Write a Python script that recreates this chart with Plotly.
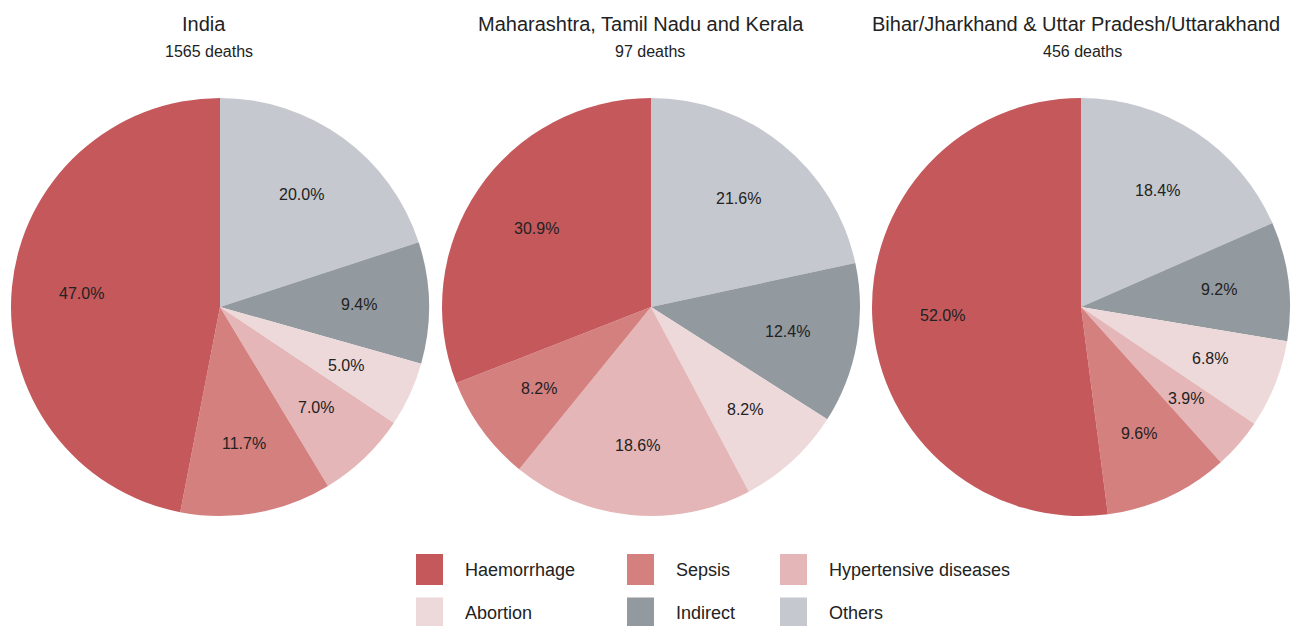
import math
import plotly.graph_objects as go

causes = ["Haemorrhage", "Sepsis", "Hypertensive diseases", "Abortion", "Indirect", "Others"]
colors = ["#C4585B", "#D4807F", "#E5B6B7", "#EDD9DA", "#92999F", "#C5C8CE"]

regions = ["India", "Maharashtra, Tamil Nadu and Kerala", "Bihar/Jharkhand & Uttar Pradesh/Uttarakhand"]
deaths = [1565, 97, 456]
india = [47.0, 11.7, 7.0, 5.0, 9.4, 20.0]
south = [30.9, 8.2, 18.6, 8.2, 12.4, 21.6]
north = [52.0, 9.6, 3.9, 6.8, 9.2, 18.4]
series = [india, south, north]

W, H = 1299, 626
FONT = "Liberation Sans, Arial, sans-serif"
TXT = "#222222"

fig = go.Figure()
x_domains = [(11, 429), (442, 860), (872, 1290)]
title_x = [204, 640.5, 1076]
sub_x = [208.5, 650, 1082]
y_top, y_bot = 98, 516
y_dom = [(H - y_bot) / H, (H - y_top) / H]
R = (y_bot - y_top) / 2
for i, vals in enumerate(series):
    x0, x1 = x_domains[i]
    # slices run counterclockwise from 12 o'clock: draw clockwise with reversed order
    fig.add_trace(go.Pie(
        labels=causes[::-1], values=vals[::-1], sort=False, direction="clockwise", rotation=0,
        marker=dict(colors=colors[::-1], line=dict(width=0)),
        textinfo="none",
        domain=dict(x=[x0 / W, x1 / W], y=y_dom),
        showlegend=False, hovertemplate="%{label}: %{value:.1f}%<extra></extra>",
    ))
    cx = (x0 + x1) / 2
    cy = (y_top + y_bot) / 2
    total = sum(vals)
    cum = 0.0
    for v in vals:
        mid = (cum + v / 2) / total * 2 * math.pi
        cum += v
        lx = cx - 0.665 * R * math.sin(mid)
        ly = cy - 0.665 * R * math.cos(mid)
        fig.add_annotation(x=lx / W, y=1 - ly / H, xref="paper", yref="paper",
                           text=f"{v:.1f}%", showarrow=False, xanchor="center", yanchor="middle",
                           font=dict(family=FONT, size=16, color=TXT))
    fig.add_annotation(x=title_x[i] / W, y=1 - 24 / H, xref="paper", yref="paper", text=regions[i],
                       showarrow=False, xanchor="center", yanchor="middle",
                       font=dict(family=FONT, size=20, color=TXT))
    fig.add_annotation(x=sub_x[i] / W, y=1 - 51 / H, xref="paper", yref="paper",
                       text=f"{deaths[i]} deaths", showarrow=False, xanchor="center", yanchor="middle",
                       font=dict(family=FONT, size=16, color=TXT))

# legend (3 columns x 2 rows)
col_x = [416, 627, 780]
row_y = [569.5, 613]
for k, (name, c) in enumerate(zip(causes, colors)):
    r, cidx = divmod(k, 3)
    sx, sy = col_x[cidx], row_y[r]
    fig.add_shape(type="rect", xref="paper", yref="paper",
                  x0=sx / W, x1=(sx + 27) / W, y0=1 - (sy - 15.5) / H, y1=1 - (sy + 15.5) / H,
                  fillcolor=c, line=dict(width=0))
    fig.add_annotation(x=(sx + 47) / W, y=1 - sy / H, xref="paper", yref="paper", text=name,
                       xanchor="left", yanchor="middle", showarrow=False,
                       font=dict(family=FONT, size=18, color=TXT))

fig.update_layout(width=W, height=H, margin=dict(l=0, r=0, t=0, b=0),
                  paper_bgcolor="white", plot_bgcolor="white", font=dict(family=FONT))
fig.write_html("out.html", config={"displayModeBar": False},
               post_script="document.body.style.margin='0';document.body.style.overflow='hidden';")
